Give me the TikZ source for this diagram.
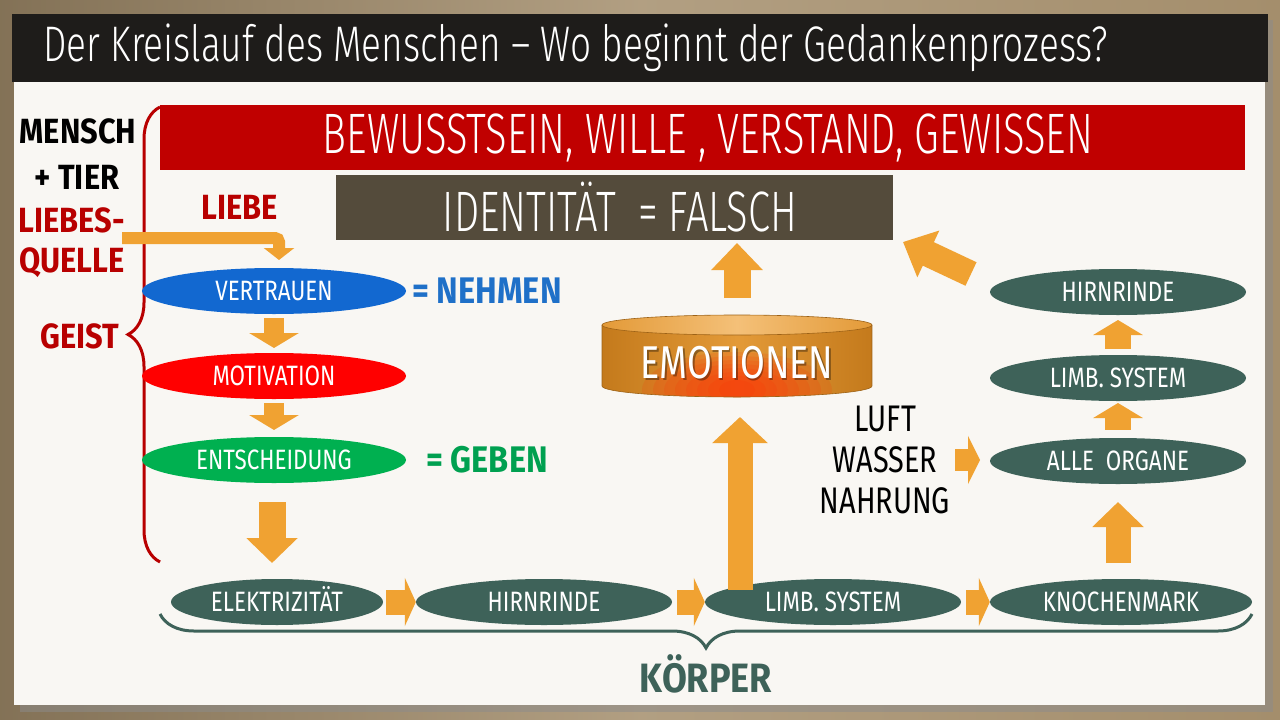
\documentclass[tikz,border=0pt]{standalone}
\usepackage{fontspec}
\setmainfont{Fira Sans}[FakeStretch=0.78]
\newfontfamily\thinfont{Fira Sans Light}[FakeStretch=0.74]
\newfontfamily\barfont{Fira Sans Light}[FakeStretch=0.70]
\newfontfamily\ovalfont{Fira Sans}[FakeStretch=0.80]
\newfontfamily\labelfont{Fira Sans}[FakeStretch=0.88]
\usetikzlibrary{shapes.geometric,arrows.meta,decorations.pathreplacing,positioning}

\definecolor{frametan}{HTML}{A48E6C}
\definecolor{panel}{HTML}{F9F7F3}
\definecolor{titlebar}{HTML}{1E1C1A}
\definecolor{bewred}{HTML}{C00000}
\definecolor{identbrown}{HTML}{544B3B}
\definecolor{vblue}{HTML}{1268D0}
\definecolor{mred}{HTML}{FF0000}
\definecolor{egreen}{HTML}{00B050}
\definecolor{bodyteal}{HTML}{3E6259}
\definecolor{arroworange}{HTML}{F0A232}
\definecolor{labelred}{HTML}{B80000}
\definecolor{nblue}{HTML}{1F70C8}
\definecolor{ggreen}{HTML}{00A050}
\definecolor{emodark}{HTML}{C47A1C}
\definecolor{emomid}{HTML}{E39A38}
\definecolor{emolight}{HTML}{F4C078}
\definecolor{emored}{HTML}{FF2A00}

\newcommand{\fsz}[1]{\fontsize{#1}{#1}\selectfont}

\tikzset{
  oval/.style={ellipse, minimum width=256pt, minimum height=46pt, inner sep=0pt,
    text=white, font=\ovalfont\fsz{28}, text height=19pt, text depth=0pt},
  body/.style={oval, fill=bodyteal},
  fatarrow/.style n args={3}{draw=arroworange, line width=#1,
    -{Triangle[width=#2,length=#3]}},
  bigtext/.style={text=white, font=\barfont\fsz{57}},
  redlabel/.style={text=labelred, font=\labelfont\bfseries\fsz{35}},
  blacklabel/.style={text=black, font=\labelfont\bfseries\fsz{35}},
}

\begin{document}
\begin{tikzpicture}[x=1pt,y=-1pt]
\useasboundingbox (0,0) rectangle (1280,720);
% frame and panel
\shade[left color=frametan!80!black, right color=frametan, middle color=frametan!85!white]
  (0,0) rectangle (1280,720);
\fill[black!45,opacity=0.5] (20,20) rectangle (1273,712);
\fill[panel] (14,82) rectangle (1265,705);
\fill[titlebar] (12,14) rectangle (1268,82);
\node[anchor=west, text=white, font=\thinfont\fsz{50}] (title) at (40,48)
  {Der Kreislauf des Menschen – Wo beginnt der Gedankenprozess?};

% top bars
\fill[bewred] (160,105) rectangle (1245,170);
\node[bigtext] (bew) at (708,138) {BEWUSSTSEIN, WILLE , VERSTAND, GEWISSEN};
\fill[identbrown] (336,175) rectangle (893,240);
\node[bigtext] (ident) at (620,207) {IDENTITÄT\ \ = FALSCH};
\coordinate (identcorner) at (903,242);

% left labels
\node[blacklabel] (mensch) at (78,131) {MENSCH};
\node[blacklabel] (tier) at (77,177) {+ TIER};
\node[redlabel] (liebes) at (72,220) {LIEBES-};
\node[redlabel] (quelle) at (72,263) {QUELLE};
\node[redlabel] (geist) at (80,336) {GEIST};
\node[redlabel] (liebe) at (240,207) {LIEBE};
\draw[labelred, line width=3pt, decorate, decoration={brace, amplitude=32pt}]
  (160,562) -- (160,107);

% geist column
\node[oval, fill=vblue, minimum width=264pt] (vertr) at (274,291) {VERTRAUEN};
\node[oval, fill=mred, minimum width=264pt] (motiv) at (274,376) {MOTIVATION};
\node[oval, fill=egreen, minimum width=264pt] (entsch) at (274,460) {ENTSCHEIDUNG};
\node[text=nblue, font=\labelfont\bfseries\fsz{37}] (nehmen) at (487,291) {= NEHMEN};
\node[text=ggreen, font=\labelfont\bfseries\fsz{37}] (geben) at (487,460) {= GEBEN};

% liebe arrow
\coordinate (liebstart) at (122,238);
\coordinate (liebend) at (279,260);
\draw[fatarrow={12pt}{30pt}{12pt}, rounded corners=4pt]
  (liebstart) -| (liebend);

% body row
\node[body, minimum width=212pt] (elek) at (277,602) {ELEKTRIZITÄT};
\node[body] (hirn1) at (544,602) {HIRNRINDE};
\node[body] (limb1) at (833,602) {LIMB. SYSTEM};
\node[body, minimum width=262pt] (knoch) at (1121,602) {KNOCHENMARK};
\node[body] (organe) at (1118,461) {ALLE\ \ ORGANE};
\node[body] (limb2) at (1118,378) {LIMB. SYSTEM};
\node[body] (hirn2) at (1118,292) {HIRNRINDE};
\draw[bodyteal, line width=3pt, decorate, decoration={brace, amplitude=34pt}]
  (1252,614) -- (160,614);
\node[text=bodyteal, font=\labelfont\bfseries\fsz{41}] (koerper) at (706,674) {KÖRPER};

% food
\node[align=center, text=black, font=\fsz{37}] (food) at (885,460)
  {LUFT\\[4pt]WASSER\\[4pt]NAHRUNG};

% emotionen cylinder
\coordinate (emobase) at (740,397);
\begin{scope}
  \clip (602,325) -- (602,386) arc[start angle=180, end angle=0, x radius=135, y radius=11]
    -- (872,325) -- cycle;
  \shade[left color=emodark, right color=emodark, middle color=emomid]
    (602,310) rectangle (872,400);
  \foreach \k in {0,...,7}
    \fill[emored, opacity=0.14] (737,390) ellipse ({95-11*\k} and {38-4*\k});
\end{scope}
\draw[emodark!80!black, line width=0.6pt] (602,325) -- (602,386)
  arc[start angle=180, end angle=0, x radius=135, y radius=11] -- (872,325);
\shade[left color=emomid, right color=emomid, middle color=emolight, draw=emodark!80!black, line width=0.6pt]
  (737,325) ellipse (135 and 10);
\node[text=black, opacity=0.35, font=\fsz{46}] at (738.5,364.5) {EMOTIONEN};
\node[text=white, font=\fsz{46}] (emo) at (737,363) {EMOTIONEN};

% arrows
\draw[fatarrow={20pt}{49pt}{15pt}] (vertr.south) ++(0,4) -- (274,348);
\draw[fatarrow={20pt}{49pt}{15pt}] (motiv.south) ++(0,4) -- (274,430);
\draw[fatarrow={27pt}{50pt}{25pt}] (272,502) -- (272,563);
\draw[fatarrow={25pt}{48pt}{11pt}] (elek.east) ++(3,0) -- (hirn1.west);
\draw[fatarrow={25pt}{48pt}{11pt}] (hirn1.east) ++(5,0) -- (limb1.west);
\draw[fatarrow={25pt}{48pt}{11pt}] (limb1.east) ++(5,0) -- (knoch.west);
\draw[fatarrow={25pt}{50pt}{25pt}] (1118,563) -- (1118,502);
\draw[fatarrow={26pt}{49pt}{15pt}] (organe.north) ++(0,-8) -- (1118,403);
\draw[fatarrow={26pt}{49pt}{15pt}] (limb2.north) ++(0,-6) -- (1118,320);
\draw[fatarrow={22pt}{48pt}{12pt}] (955,460) -- (980,460);
\draw[fatarrow={25pt}{54pt}{26pt}] (740,590) -- (740,417);
\draw[fatarrow={27pt}{50pt}{27pt}] (737,298) -- (737,243);
\draw[fatarrow={26pt}{50pt}{28pt}] (971,274) -- (identcorner);
\end{tikzpicture}
\end{document}
